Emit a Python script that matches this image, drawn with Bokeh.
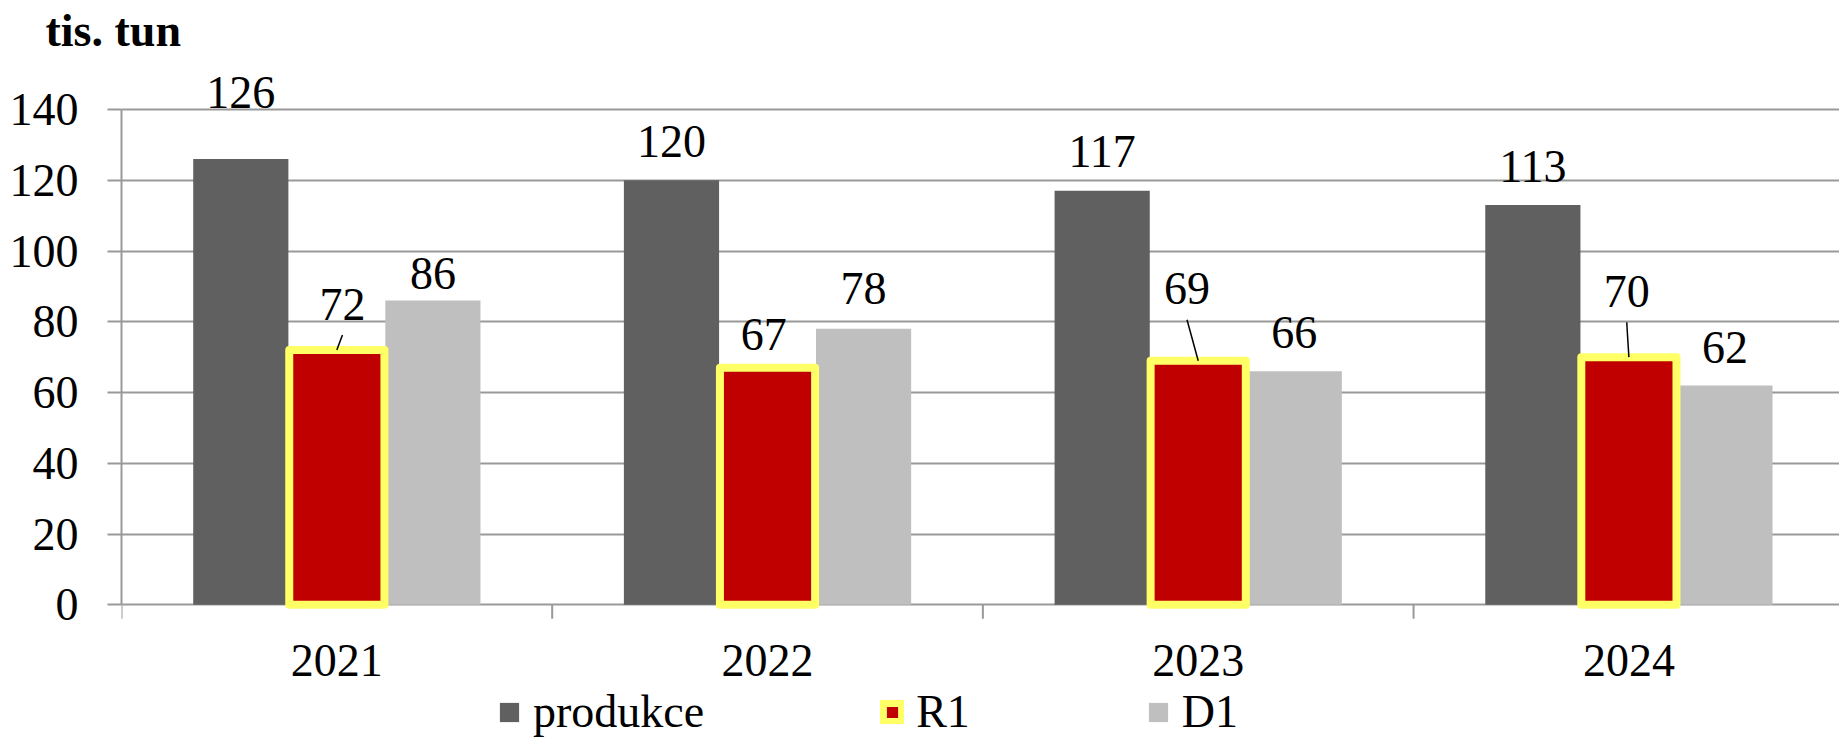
import numpy as np
from bokeh.plotting import figure
from bokeh.models import (ColumnDataSource, Range1d, FixedTicker, Legend, LegendItem,
                          LabelSet)
from bokeh.embed import file_html
from bokeh.resources import INLINE

# ---------------- data ----------------
years = ["2021", "2022", "2023", "2024"]
produkce = [126, 120, 117, 113]
r1 = [72, 67, 69, 70]
d1 = [86, 78, 66, 62]
y_ticks = [0, 20, 40, 60, 80, 100, 120, 140]
series_names = ["produkce", "R1", "D1"]
title_text = "tis. tun"

# data-label placement (data units above the bar top / horizontal shift)
produkce_label_dy = [18.9, 11.0, 11.0, 11.0]
r1_label_dy = [13.0, 9.3, 20.3, 18.6]
r1_label_dx = [0.013, -0.009, -0.026, -0.005]
d1_label_dy = [7.6, 11.3, 11.0, 10.7]

# ---------------- style / layout ----------------
FONT = "Liberation Serif"
FS = "46px"
DARK = "#606060"
RED = "#C00000"
YEL = "#FFFF66"
LIGHT = "#BFBFBF"
GRID = "#999999"
BAR_W = 0.221
DODGE = 0.223
PX_PER_Y = 3.546          # pixels per value unit
LEADER_GAP = 31 / PX_PER_Y
Y_END = 154.7
Y_START = -37.8
CAT_LABEL_Y = -56 / PX_PER_Y
TICK_LEN = 14 / PX_PER_Y

centers = np.arange(len(years)) + 0.5
bounds = np.arange(len(years) + 1)

p = figure(width=1839, height=738, output_backend="svg", toolbar_location=None,
           x_range=Range1d(0, 3.989), y_range=Range1d(Y_START, Y_END),
           min_border_left=121, min_border_right=0, min_border_top=0,
           min_border_bottom=0)
p.outline_line_color = None
p.background_fill_color = "white"
p.border_fill_color = "white"

# title
p.title.text = title_text
p.title.text_font = FONT
p.title.text_font_size = FS
p.title.text_font_style = "bold"
p.title.text_color = "black"
p.title.align = "left"
p.title.offset = -76
p.title.standoff = 4

# ---------------- grid & y axis ----------------
p.xaxis.visible = False
p.xgrid.visible = False
p.ygrid.ticker = FixedTicker(ticks=y_ticks)
p.ygrid.grid_line_color = GRID
p.ygrid.grid_line_width = 2

ya = p.yaxis[0]
ya.ticker = FixedTicker(ticks=y_ticks)
ya.bounds = (0, 140)
ya.axis_line_color = GRID
ya.axis_line_width = 2
ya.major_tick_line_color = GRID
ya.major_tick_line_width = 2
ya.major_tick_out = 14
ya.major_tick_in = 0
ya.minor_tick_out = 0
ya.minor_tick_in = 0
ya.major_label_standoff = 29
ya.major_label_text_font = FONT
ya.major_label_text_font_size = FS
ya.major_label_text_color = "black"

# category axis ticks (between categories) and labels
p.segment(x0=bounds, y0=[0] * len(bounds), x1=bounds, y1=[-TICK_LEN] * len(bounds),
          line_color=GRID, line_width=2)
csrc = ColumnDataSource(dict(x=centers, y=[CAT_LABEL_Y] * len(years), text=years))
p.add_layout(LabelSet(x="x", y="y", text="text", source=csrc, text_align="center",
                      text_baseline="middle", text_font=FONT, text_font_size=FS,
                      text_color="black"))

# ---------------- bars ----------------
src = ColumnDataSource(dict(
    xp=centers - DODGE, xr=centers, xd=centers + DODGE,
    produkce=produkce, r1=r1, d1=d1))

r_dark = p.vbar(x="xp", top="produkce", bottom=0, width=BAR_W, source=src,
                fill_color=DARK, line_color=None)
r_light = p.vbar(x="xd", top="d1", bottom=0, width=BAR_W, source=src,
                 fill_color=LIGHT, line_color=None)
r_red = p.vbar(x="xr", top="r1", bottom=0, width=BAR_W, source=src,
               fill_color=RED, line_color=YEL, line_width=8, line_join="round")

# ---------------- data labels ----------------
lx, ly, lt = [], [], []
for i in range(len(years)):
    lx.append(centers[i] - DODGE); ly.append(produkce[i] + produkce_label_dy[i]); lt.append(str(produkce[i]))
    lx.append(centers[i] + r1_label_dx[i]); ly.append(r1[i] + r1_label_dy[i]); lt.append(str(r1[i]))
    lx.append(centers[i] + DODGE); ly.append(d1[i] + d1_label_dy[i]); lt.append(str(d1[i]))
lsrc = ColumnDataSource(dict(x=lx, y=ly, text=lt))
p.add_layout(LabelSet(x="x", y="y", text="text", source=lsrc, text_align="center",
                      text_baseline="middle", text_font=FONT, text_font_size=FS,
                      text_color="black"))

# leader lines for the R1 labels that sit far from their bar
x0, y0, x1, y1 = [], [], [], []
for i in range(len(years)):
    if r1_label_dy[i] - LEADER_GAP > 1.5:
        x0.append(centers[i]); y0.append(r1[i])
        x1.append(centers[i] + r1_label_dx[i]); y1.append(r1[i] + r1_label_dy[i] - LEADER_GAP)
p.segment(x0=x0, y0=y0, x1=x1, y1=y1, line_color="black", line_width=1.5)

# ---------------- legend ----------------
legend = Legend(items=[LegendItem(label=series_names[0], renderers=[r_dark]),
                       LegendItem(label=series_names[1], renderers=[r_red]),
                       LegendItem(label=series_names[2], renderers=[r_light])],
                orientation="horizontal", location=(376, 0),
                spacing=176, label_standoff=12, glyph_width=24, glyph_height=24,
                padding=0, margin=0, border_line_color=None,
                background_fill_alpha=0, label_text_font=FONT,
                label_text_font_size=FS, label_text_color="black")
p.add_layout(legend)

open("out.html", "w").write(file_html(p, INLINE))
